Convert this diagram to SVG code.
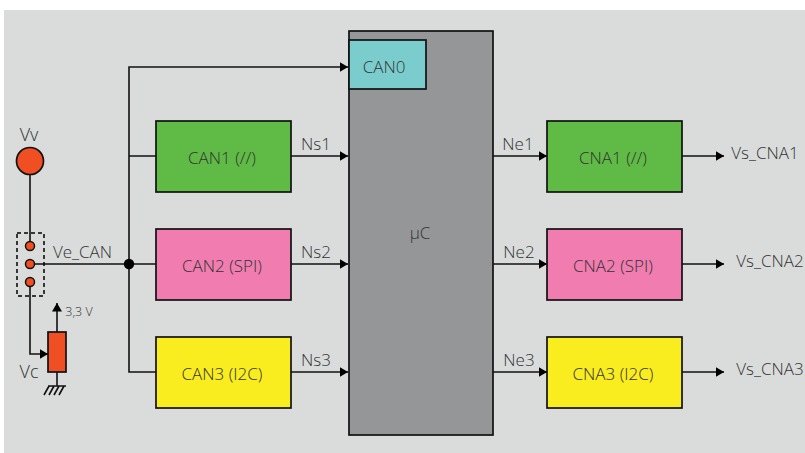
<svg xmlns="http://www.w3.org/2000/svg" width="805" height="453" viewBox="0 0 805 453">
<style>
.n{stroke:#111;stroke-width:1.7}
.c{fill:none;stroke:#111;stroke-width:1.6}
text{font-family:"Open Sans","Noto Sans",sans-serif;font-size:17px;font-weight:300;fill:#333;text-anchor:middle}
.s{font-size:12.500px}
.d{fill:#f04e23;stroke:#111;stroke-width:1.5}
</style>
<defs><marker id="a" markerUnits="userSpaceOnUse" markerWidth="9" markerHeight="10" refX="8.500" refY="5" orient="auto"><path d="M0 0L8.500 5L0 10Z" fill="#000"/></marker></defs>
<rect x="4" y="10" width="801" height="443" fill="#d9dcdb"/>
<g id="connectors">
<path class="c" d="M129 264V67H348" marker-end="url(#a)"/>
<path class="c" d="M129 156H156M129 264H156M129 264V372H156"/>
<path class="c" d="M291 156H348" marker-end="url(#a)"/>
<path class="c" d="M291 264H348" marker-end="url(#a)"/>
<path class="c" d="M291 372H348" marker-end="url(#a)"/>
<path class="c" d="M493 156H547" marker-end="url(#a)"/>
<path class="c" d="M493 264H547" marker-end="url(#a)"/>
<path class="c" d="M493 372H547" marker-end="url(#a)"/>
<path class="c" d="M682 156H724" marker-end="url(#a)"/>
<path class="c" d="M682 264H724" marker-end="url(#a)"/>
<path class="c" d="M682 372H724" marker-end="url(#a)"/>
<path class="c" d="M30 175V243M30 264H129M30 283V354H48" marker-end="url(#a)"/>
<path class="c" d="M57 332V303" marker-end="url(#a)"/>
<path class="c" d="M57 372V386"/>
<circle cx="129" cy="264" r="5.200" fill="#000"/>
</g>
<g id="uc"><rect class="n" x="349" y="31" width="144" height="404" fill="#959698"/><text x="420" y="239">µC</text></g>
<g id="can0"><rect class="n" x="349" y="40" width="77" height="49" fill="#7bcdcd"/><text x="384" y="73">CAN0</text></g>
<g id="can1"><rect class="n" x="156" y="121" width="135" height="71" fill="#5fba46"/><text x="222" y="164">CAN1 (//)</text></g>
<g id="can2"><rect class="n" x="156" y="229" width="135" height="71" fill="#f07cb0"/><text x="222" y="272">CAN2 (SPI)</text></g>
<g id="can3"><rect class="n" x="156" y="337" width="135" height="71" fill="#f9ed1f"/><text x="222" y="380">CAN3 (I2C)</text></g>
<g id="cna1"><rect class="n" x="547" y="121" width="135" height="71" fill="#5fba46"/><text x="613" y="164">CNA1 (//)</text></g>
<g id="cna2"><rect class="n" x="547" y="229" width="135" height="71" fill="#f07cb0"/><text x="613" y="272">CNA2 (SPI)</text></g>
<g id="cna3"><rect class="n" x="547" y="337" width="135" height="71" fill="#f9ed1f"/><text x="613" y="380">CNA3 (I2C)</text></g>
<g id="labels">
<text x="316" y="150">Ns1</text><text x="316" y="258">Ns2</text><text x="316" y="366">Ns3</text>
<text x="518" y="150">Ne1</text><text x="519" y="258">Ne2</text><text x="519" y="366">Ne3</text>
<text x="765" y="159">Vs_CNA1</text><text x="770" y="267">Vs_CNA2</text><text x="770" y="375">Vs_CNA3</text>
<text x="82.500" y="258">Ve_CAN</text>
</g>
<g id="vv"><circle cx="30" cy="161" r="13.500" fill="#f04e23" stroke="#111" stroke-width="1.7"/><text x="29" y="141" style="font-size:18px">Vv</text></g>
<g id="switch"><rect x="17" y="233" width="27" height="63" fill="none" stroke="#000" stroke-width="1.500" stroke-dasharray="4 3"/><circle class="d" cx="30" cy="246" r="4.500"/><circle class="d" cx="30" cy="264" r="4.500"/><circle class="d" cx="30" cy="282" r="4.500"/></g>
<g id="pot"><rect class="n" x="48" y="332" width="18" height="40" fill="#f04e23"/><text class="s" x="79" y="316">3,3 V</text><text x="29" y="378" style="font-size:18px">Vc</text>
<path class="c" d="M48 386H66M49 386L44 395M54 386L49 395M59 386L54 395M64 386L59 395"/></g>
</svg>
